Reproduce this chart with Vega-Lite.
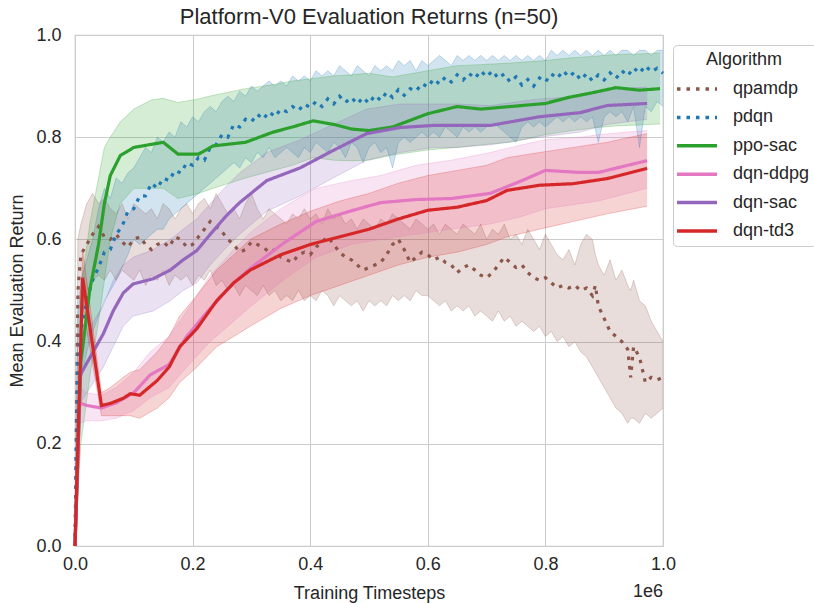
{
"$schema": "https://vega.github.io/schema/vega-lite/v6.json",
"width": 588, "height": 511,
"autosize": {"type": "none"},
"padding": {"left": 75, "top": 35, "right": 151, "bottom": 57},
"title": {"text": "Platform-V0 Evaluation Returns (n=50)", "fontSize": 22, "fontWeight": "normal", "font": "Liberation Sans", "color": "#262626", "offset": -3},
"config": {
  "font": "Liberation Sans",
  "view": {"stroke": "#cccccc", "strokeWidth": 1.25},
  "axis": {"grid": true, "gridColor": "#cccccc", "gridWidth": 1, "domain": false, "ticks": false, "labelFlush": false, "labelFontSize": 18, "labelColor": "#262626", "titleFontSize": 18, "titleFontWeight": "normal", "titleColor": "#262626"}
},
"datasets": {
"runs": [
{"a":"qpamdp","t":0,"m":0,"lo":0,"hi":0},
{"a":"qpamdp","t":0.005,"m":0.50,"lo":0.40,"hi":0.60},
{"a":"qpamdp","t":0.01,"m":0.57,"lo":0.44,"hi":0.63},
{"a":"qpamdp","t":0.02,"m":0.59,"lo":0.50,"hi":0.67},
{"a":"qpamdp","t":0.03,"m":0.61,"lo":0.52,"hi":0.69},
{"a":"qpamdp","t":0.04,"m":0.625,"lo":0.53,"hi":0.67},
{"a":"qpamdp","t":0.05,"m":0.605,"lo":0.52,"hi":0.68},
{"a":"qpamdp","t":0.06,"m":0.60,"lo":0.54,"hi":0.66},
{"a":"qpamdp","t":0.07,"m":0.61,"lo":0.52,"hi":0.65},
{"a":"qpamdp","t":0.08,"m":0.595,"lo":0.54,"hi":0.67},
{"a":"qpamdp","t":0.09,"m":0.585,"lo":0.53,"hi":0.64},
{"a":"qpamdp","t":0.10,"m":0.60,"lo":0.52,"hi":0.67},
{"a":"qpamdp","t":0.11,"m":0.605,"lo":0.54,"hi":0.66},
{"a":"qpamdp","t":0.12,"m":0.59,"lo":0.51,"hi":0.65},
{"a":"qpamdp","t":0.13,"m":0.58,"lo":0.53,"hi":0.66},
{"a":"qpamdp","t":0.14,"m":0.59,"lo":0.52,"hi":0.64},
{"a":"qpamdp","t":0.15,"m":0.595,"lo":0.54,"hi":0.67},
{"a":"qpamdp","t":0.16,"m":0.585,"lo":0.51,"hi":0.66},
{"a":"qpamdp","t":0.17,"m":0.605,"lo":0.53,"hi":0.64},
{"a":"qpamdp","t":0.18,"m":0.60,"lo":0.52,"hi":0.66},
{"a":"qpamdp","t":0.19,"m":0.585,"lo":0.53,"hi":0.67},
{"a":"qpamdp","t":0.20,"m":0.59,"lo":0.51,"hi":0.65},
{"a":"qpamdp","t":0.21,"m":0.605,"lo":0.53,"hi":0.67},
{"a":"qpamdp","t":0.22,"m":0.62,"lo":0.52,"hi":0.68},
{"a":"qpamdp","t":0.23,"m":0.635,"lo":0.54,"hi":0.66},
{"a":"qpamdp","t":0.24,"m":0.625,"lo":0.51,"hi":0.69},
{"a":"qpamdp","t":0.25,"m":0.615,"lo":0.52,"hi":0.67},
{"a":"qpamdp","t":0.26,"m":0.60,"lo":0.50,"hi":0.65},
{"a":"qpamdp","t":0.27,"m":0.59,"lo":0.51,"hi":0.66},
{"a":"qpamdp","t":0.28,"m":0.575,"lo":0.49,"hi":0.64},
{"a":"qpamdp","t":0.29,"m":0.58,"lo":0.51,"hi":0.67},
{"a":"qpamdp","t":0.30,"m":0.595,"lo":0.50,"hi":0.69},
{"a":"qpamdp","t":0.31,"m":0.59,"lo":0.49,"hi":0.66},
{"a":"qpamdp","t":0.32,"m":0.585,"lo":0.51,"hi":0.64},
{"a":"qpamdp","t":0.33,"m":0.575,"lo":0.49,"hi":0.66},
{"a":"qpamdp","t":0.34,"m":0.58,"lo":0.50,"hi":0.65},
{"a":"qpamdp","t":0.35,"m":0.565,"lo":0.48,"hi":0.64},
{"a":"qpamdp","t":0.36,"m":0.56,"lo":0.49,"hi":0.63},
{"a":"qpamdp","t":0.37,"m":0.555,"lo":0.48,"hi":0.65},
{"a":"qpamdp","t":0.38,"m":0.57,"lo":0.50,"hi":0.64},
{"a":"qpamdp","t":0.39,"m":0.575,"lo":0.48,"hi":0.66},
{"a":"qpamdp","t":0.40,"m":0.57,"lo":0.49,"hi":0.64},
{"a":"qpamdp","t":0.41,"m":0.585,"lo":0.48,"hi":0.65},
{"a":"qpamdp","t":0.42,"m":0.595,"lo":0.50,"hi":0.63},
{"a":"qpamdp","t":0.43,"m":0.605,"lo":0.49,"hi":0.66},
{"a":"qpamdp","t":0.44,"m":0.59,"lo":0.47,"hi":0.64},
{"a":"qpamdp","t":0.45,"m":0.575,"lo":0.49,"hi":0.65},
{"a":"qpamdp","t":0.46,"m":0.565,"lo":0.48,"hi":0.63},
{"a":"qpamdp","t":0.47,"m":0.56,"lo":0.47,"hi":0.64},
{"a":"qpamdp","t":0.48,"m":0.55,"lo":0.48,"hi":0.62},
{"a":"qpamdp","t":0.49,"m":0.54,"lo":0.46,"hi":0.64},
{"a":"qpamdp","t":0.50,"m":0.545,"lo":0.48,"hi":0.63},
{"a":"qpamdp","t":0.51,"m":0.55,"lo":0.47,"hi":0.62},
{"a":"qpamdp","t":0.52,"m":0.555,"lo":0.48,"hi":0.64},
{"a":"qpamdp","t":0.53,"m":0.57,"lo":0.47,"hi":0.63},
{"a":"qpamdp","t":0.54,"m":0.59,"lo":0.49,"hi":0.65},
{"a":"qpamdp","t":0.55,"m":0.60,"lo":0.48,"hi":0.64},
{"a":"qpamdp","t":0.56,"m":0.58,"lo":0.49,"hi":0.63},
{"a":"qpamdp","t":0.57,"m":0.555,"lo":0.48,"hi":0.62},
{"a":"qpamdp","t":0.58,"m":0.565,"lo":0.50,"hi":0.64},
{"a":"qpamdp","t":0.59,"m":0.575,"lo":0.49,"hi":0.63},
{"a":"qpamdp","t":0.60,"m":0.57,"lo":0.49,"hi":0.62},
{"a":"qpamdp","t":0.61,"m":0.56,"lo":0.48,"hi":0.63},
{"a":"qpamdp","t":0.62,"m":0.565,"lo":0.47,"hi":0.61},
{"a":"qpamdp","t":0.63,"m":0.555,"lo":0.48,"hi":0.63},
{"a":"qpamdp","t":0.64,"m":0.55,"lo":0.46,"hi":0.62},
{"a":"qpamdp","t":0.65,"m":0.535,"lo":0.47,"hi":0.61},
{"a":"qpamdp","t":0.66,"m":0.545,"lo":0.46,"hi":0.63},
{"a":"qpamdp","t":0.67,"m":0.55,"lo":0.47,"hi":0.62},
{"a":"qpamdp","t":0.68,"m":0.54,"lo":0.45,"hi":0.61},
{"a":"qpamdp","t":0.69,"m":0.53,"lo":0.46,"hi":0.63},
{"a":"qpamdp","t":0.70,"m":0.525,"lo":0.45,"hi":0.60},
{"a":"qpamdp","t":0.71,"m":0.535,"lo":0.44,"hi":0.62},
{"a":"qpamdp","t":0.72,"m":0.55,"lo":0.46,"hi":0.61},
{"a":"qpamdp","t":0.73,"m":0.565,"lo":0.44,"hi":0.63},
{"a":"qpamdp","t":0.74,"m":0.555,"lo":0.45,"hi":0.60},
{"a":"qpamdp","t":0.75,"m":0.545,"lo":0.43,"hi":0.61},
{"a":"qpamdp","t":0.76,"m":0.55,"lo":0.44,"hi":0.59},
{"a":"qpamdp","t":0.77,"m":0.535,"lo":0.43,"hi":0.62},
{"a":"qpamdp","t":0.78,"m":0.525,"lo":0.42,"hi":0.60},
{"a":"qpamdp","t":0.79,"m":0.52,"lo":0.43,"hi":0.58},
{"a":"qpamdp","t":0.80,"m":0.525,"lo":0.41,"hi":0.61},
{"a":"qpamdp","t":0.81,"m":0.515,"lo":0.42,"hi":0.59},
{"a":"qpamdp","t":0.82,"m":0.505,"lo":0.40,"hi":0.57},
{"a":"qpamdp","t":0.83,"m":0.51,"lo":0.41,"hi":0.56},
{"a":"qpamdp","t":0.84,"m":0.505,"lo":0.39,"hi":0.58},
{"a":"qpamdp","t":0.85,"m":0.51,"lo":0.40,"hi":0.55},
{"a":"qpamdp","t":0.86,"m":0.50,"lo":0.38,"hi":0.59},
{"a":"qpamdp","t":0.87,"m":0.505,"lo":0.37,"hi":0.61},
{"a":"qpamdp","t":0.88,"m":0.49,"lo":0.35,"hi":0.60},
{"a":"qpamdp","t":0.885,"m":0.51,"lo":0.34,"hi":0.57},
{"a":"qpamdp","t":0.89,"m":0.47,"lo":0.33,"hi":0.55},
{"a":"qpamdp","t":0.90,"m":0.445,"lo":0.31,"hi":0.53},
{"a":"qpamdp","t":0.91,"m":0.42,"lo":0.29,"hi":0.56},
{"a":"qpamdp","t":0.92,"m":0.41,"lo":0.27,"hi":0.52},
{"a":"qpamdp","t":0.93,"m":0.40,"lo":0.26,"hi":0.54},
{"a":"qpamdp","t":0.94,"m":0.385,"lo":0.24,"hi":0.51},
{"a":"qpamdp","t":0.945,"m":0.33,"lo":0.25,"hi":0.50},
{"a":"qpamdp","t":0.95,"m":0.39,"lo":0.25,"hi":0.52},
{"a":"qpamdp","t":0.96,"m":0.37,"lo":0.24,"hi":0.48},
{"a":"qpamdp","t":0.97,"m":0.32,"lo":0.26,"hi":0.47},
{"a":"qpamdp","t":0.98,"m":0.33,"lo":0.25,"hi":0.44},
{"a":"qpamdp","t":0.99,"m":0.325,"lo":0.26,"hi":0.42},
{"a":"qpamdp","t":1.00,"m":0.33,"lo":0.27,"hi":0.40},
{"a":"pdqn","t":0,"m":0,"lo":0,"hi":0},
{"a":"pdqn","t":0.005,"m":0.36,"lo":0.25,"hi":0.45},
{"a":"pdqn","t":0.01,"m":0.42,"lo":0.32,"hi":0.52},
{"a":"pdqn","t":0.02,"m":0.48,"lo":0.38,"hi":0.56},
{"a":"pdqn","t":0.03,"m":0.52,"lo":0.42,"hi":0.60},
{"a":"pdqn","t":0.04,"m":0.545,"lo":0.45,"hi":0.66},
{"a":"pdqn","t":0.05,"m":0.575,"lo":0.48,"hi":0.70},
{"a":"pdqn","t":0.06,"m":0.58,"lo":0.50,"hi":0.68},
{"a":"pdqn","t":0.07,"m":0.61,"lo":0.52,"hi":0.72},
{"a":"pdqn","t":0.08,"m":0.625,"lo":0.545,"hi":0.71},
{"a":"pdqn","t":0.09,"m":0.655,"lo":0.57,"hi":0.73},
{"a":"pdqn","t":0.10,"m":0.66,"lo":0.60,"hi":0.74},
{"a":"pdqn","t":0.11,"m":0.685,"lo":0.59,"hi":0.76},
{"a":"pdqn","t":0.12,"m":0.685,"lo":0.60,"hi":0.78},
{"a":"pdqn","t":0.13,"m":0.71,"lo":0.61,"hi":0.77},
{"a":"pdqn","t":0.14,"m":0.70,"lo":0.62,"hi":0.80},
{"a":"pdqn","t":0.15,"m":0.72,"lo":0.62,"hi":0.79},
{"a":"pdqn","t":0.16,"m":0.715,"lo":0.64,"hi":0.81},
{"a":"pdqn","t":0.17,"m":0.735,"lo":0.65,"hi":0.80},
{"a":"pdqn","t":0.18,"m":0.73,"lo":0.66,"hi":0.83},
{"a":"pdqn","t":0.19,"m":0.75,"lo":0.67,"hi":0.82},
{"a":"pdqn","t":0.20,"m":0.745,"lo":0.68,"hi":0.84},
{"a":"pdqn","t":0.21,"m":0.76,"lo":0.69,"hi":0.83},
{"a":"pdqn","t":0.22,"m":0.755,"lo":0.70,"hi":0.85},
{"a":"pdqn","t":0.23,"m":0.78,"lo":0.71,"hi":0.86},
{"a":"pdqn","t":0.24,"m":0.785,"lo":0.72,"hi":0.85},
{"a":"pdqn","t":0.25,"m":0.805,"lo":0.73,"hi":0.87},
{"a":"pdqn","t":0.26,"m":0.80,"lo":0.74,"hi":0.88},
{"a":"pdqn","t":0.27,"m":0.825,"lo":0.75,"hi":0.87},
{"a":"pdqn","t":0.28,"m":0.82,"lo":0.74,"hi":0.89},
{"a":"pdqn","t":0.29,"m":0.835,"lo":0.76,"hi":0.88},
{"a":"pdqn","t":0.30,"m":0.83,"lo":0.75,"hi":0.90},
{"a":"pdqn","t":0.31,"m":0.845,"lo":0.77,"hi":0.89},
{"a":"pdqn","t":0.32,"m":0.835,"lo":0.76,"hi":0.90},
{"a":"pdqn","t":0.33,"m":0.85,"lo":0.78,"hi":0.91},
{"a":"pdqn","t":0.34,"m":0.84,"lo":0.76,"hi":0.90},
{"a":"pdqn","t":0.35,"m":0.855,"lo":0.77,"hi":0.91},
{"a":"pdqn","t":0.36,"m":0.85,"lo":0.78,"hi":0.90},
{"a":"pdqn","t":0.37,"m":0.86,"lo":0.77,"hi":0.92},
{"a":"pdqn","t":0.38,"m":0.852,"lo":0.76,"hi":0.91},
{"a":"pdqn","t":0.39,"m":0.865,"lo":0.78,"hi":0.92},
{"a":"pdqn","t":0.40,"m":0.858,"lo":0.77,"hi":0.91},
{"a":"pdqn","t":0.41,"m":0.87,"lo":0.79,"hi":0.93},
{"a":"pdqn","t":0.42,"m":0.86,"lo":0.78,"hi":0.92},
{"a":"pdqn","t":0.43,"m":0.875,"lo":0.77,"hi":0.93},
{"a":"pdqn","t":0.44,"m":0.865,"lo":0.79,"hi":0.92},
{"a":"pdqn","t":0.45,"m":0.88,"lo":0.78,"hi":0.94},
{"a":"pdqn","t":0.46,"m":0.868,"lo":0.76,"hi":0.93},
{"a":"pdqn","t":0.47,"m":0.878,"lo":0.79,"hi":0.92},
{"a":"pdqn","t":0.48,"m":0.865,"lo":0.78,"hi":0.94},
{"a":"pdqn","t":0.49,"m":0.878,"lo":0.75,"hi":0.93},
{"a":"pdqn","t":0.50,"m":0.866,"lo":0.78,"hi":0.92},
{"a":"pdqn","t":0.51,"m":0.882,"lo":0.79,"hi":0.94},
{"a":"pdqn","t":0.52,"m":0.872,"lo":0.77,"hi":0.93},
{"a":"pdqn","t":0.53,"m":0.888,"lo":0.78,"hi":0.94},
{"a":"pdqn","t":0.54,"m":0.878,"lo":0.74,"hi":0.93},
{"a":"pdqn","t":0.55,"m":0.893,"lo":0.79,"hi":0.95},
{"a":"pdqn","t":0.56,"m":0.882,"lo":0.80,"hi":0.94},
{"a":"pdqn","t":0.57,"m":0.895,"lo":0.79,"hi":0.95},
{"a":"pdqn","t":0.58,"m":0.89,"lo":0.80,"hi":0.93},
{"a":"pdqn","t":0.59,"m":0.905,"lo":0.81,"hi":0.95},
{"a":"pdqn","t":0.60,"m":0.898,"lo":0.80,"hi":0.94},
{"a":"pdqn","t":0.61,"m":0.914,"lo":0.81,"hi":0.95},
{"a":"pdqn","t":0.62,"m":0.904,"lo":0.80,"hi":0.96},
{"a":"pdqn","t":0.63,"m":0.918,"lo":0.82,"hi":0.95},
{"a":"pdqn","t":0.64,"m":0.908,"lo":0.81,"hi":0.94},
{"a":"pdqn","t":0.65,"m":0.922,"lo":0.80,"hi":0.96},
{"a":"pdqn","t":0.66,"m":0.912,"lo":0.82,"hi":0.95},
{"a":"pdqn","t":0.67,"m":0.925,"lo":0.81,"hi":0.96},
{"a":"pdqn","t":0.68,"m":0.915,"lo":0.82,"hi":0.95},
{"a":"pdqn","t":0.69,"m":0.93,"lo":0.81,"hi":0.96},
{"a":"pdqn","t":0.70,"m":0.918,"lo":0.82,"hi":0.95},
{"a":"pdqn","t":0.71,"m":0.93,"lo":0.83,"hi":0.96},
{"a":"pdqn","t":0.72,"m":0.915,"lo":0.82,"hi":0.95},
{"a":"pdqn","t":0.73,"m":0.924,"lo":0.81,"hi":0.96},
{"a":"pdqn","t":0.74,"m":0.908,"lo":0.80,"hi":0.95},
{"a":"pdqn","t":0.75,"m":0.918,"lo":0.79,"hi":0.96},
{"a":"pdqn","t":0.76,"m":0.902,"lo":0.82,"hi":0.95},
{"a":"pdqn","t":0.77,"m":0.913,"lo":0.83,"hi":0.96},
{"a":"pdqn","t":0.78,"m":0.90,"lo":0.82,"hi":0.95},
{"a":"pdqn","t":0.79,"m":0.916,"lo":0.83,"hi":0.96},
{"a":"pdqn","t":0.80,"m":0.908,"lo":0.82,"hi":0.95},
{"a":"pdqn","t":0.81,"m":0.924,"lo":0.83,"hi":0.97},
{"a":"pdqn","t":0.82,"m":0.915,"lo":0.84,"hi":0.96},
{"a":"pdqn","t":0.83,"m":0.93,"lo":0.83,"hi":0.97},
{"a":"pdqn","t":0.84,"m":0.918,"lo":0.84,"hi":0.96},
{"a":"pdqn","t":0.85,"m":0.928,"lo":0.83,"hi":0.97},
{"a":"pdqn","t":0.86,"m":0.912,"lo":0.84,"hi":0.96},
{"a":"pdqn","t":0.87,"m":0.924,"lo":0.83,"hi":0.97},
{"a":"pdqn","t":0.88,"m":0.91,"lo":0.84,"hi":0.96},
{"a":"pdqn","t":0.89,"m":0.922,"lo":0.79,"hi":0.97},
{"a":"pdqn","t":0.90,"m":0.912,"lo":0.84,"hi":0.96},
{"a":"pdqn","t":0.91,"m":0.926,"lo":0.85,"hi":0.97},
{"a":"pdqn","t":0.92,"m":0.915,"lo":0.84,"hi":0.96},
{"a":"pdqn","t":0.93,"m":0.93,"lo":0.85,"hi":0.97},
{"a":"pdqn","t":0.94,"m":0.92,"lo":0.83,"hi":0.97},
{"a":"pdqn","t":0.95,"m":0.936,"lo":0.86,"hi":0.96},
{"a":"pdqn","t":0.96,"m":0.925,"lo":0.78,"hi":0.97},
{"a":"pdqn","t":0.97,"m":0.94,"lo":0.86,"hi":0.97},
{"a":"pdqn","t":0.98,"m":0.928,"lo":0.85,"hi":0.96},
{"a":"pdqn","t":0.99,"m":0.935,"lo":0.87,"hi":0.97},
{"a":"pdqn","t":1.00,"m":0.925,"lo":0.86,"hi":0.97},
{"a":"ppo-sac","t":0,"m":0,"lo":0,"hi":0},
{"a":"ppo-sac","t":0.01,"m":0.36,"lo":0.20,"hi":0.50},
{"a":"ppo-sac","t":0.025,"m":0.50,"lo":0.33,"hi":0.63},
{"a":"ppo-sac","t":0.04,"m":0.59,"lo":0.44,"hi":0.72},
{"a":"ppo-sac","t":0.05,"m":0.67,"lo":0.52,"hi":0.78},
{"a":"ppo-sac","t":0.06,"m":0.725,"lo":0.60,"hi":0.80},
{"a":"ppo-sac","t":0.077,"m":0.764,"lo":0.67,"hi":0.83},
{"a":"ppo-sac","t":0.10,"m":0.78,"lo":0.70,"hi":0.855},
{"a":"ppo-sac","t":0.13,"m":0.786,"lo":0.70,"hi":0.873},
{"a":"ppo-sac","t":0.15,"m":0.79,"lo":0.70,"hi":0.876},
{"a":"ppo-sac","t":0.175,"m":0.767,"lo":0.68,"hi":0.868},
{"a":"ppo-sac","t":0.21,"m":0.767,"lo":0.69,"hi":0.875},
{"a":"ppo-sac","t":0.235,"m":0.783,"lo":0.70,"hi":0.882},
{"a":"ppo-sac","t":0.29,"m":0.79,"lo":0.72,"hi":0.895},
{"a":"ppo-sac","t":0.337,"m":0.81,"lo":0.735,"hi":0.903},
{"a":"ppo-sac","t":0.37,"m":0.82,"lo":0.745,"hi":0.91},
{"a":"ppo-sac","t":0.405,"m":0.832,"lo":0.76,"hi":0.915},
{"a":"ppo-sac","t":0.44,"m":0.825,"lo":0.755,"hi":0.92},
{"a":"ppo-sac","t":0.47,"m":0.816,"lo":0.754,"hi":0.922},
{"a":"ppo-sac","t":0.50,"m":0.813,"lo":0.755,"hi":0.925},
{"a":"ppo-sac","t":0.54,"m":0.82,"lo":0.765,"hi":0.918},
{"a":"ppo-sac","t":0.60,"m":0.846,"lo":0.775,"hi":0.93},
{"a":"ppo-sac","t":0.65,"m":0.86,"lo":0.78,"hi":0.94},
{"a":"ppo-sac","t":0.69,"m":0.855,"lo":0.785,"hi":0.942},
{"a":"ppo-sac","t":0.74,"m":0.86,"lo":0.79,"hi":0.945},
{"a":"ppo-sac","t":0.80,"m":0.866,"lo":0.805,"hi":0.95},
{"a":"ppo-sac","t":0.84,"m":0.878,"lo":0.812,"hi":0.955},
{"a":"ppo-sac","t":0.88,"m":0.887,"lo":0.818,"hi":0.958},
{"a":"ppo-sac","t":0.92,"m":0.897,"lo":0.822,"hi":0.962},
{"a":"ppo-sac","t":0.96,"m":0.892,"lo":0.824,"hi":0.963},
{"a":"ppo-sac","t":0.995,"m":0.895,"lo":0.826,"hi":0.965},
{"a":"dqn-ddpg","t":0,"m":0,"lo":0,"hi":0},
{"a":"dqn-ddpg","t":0.008,"m":0.28,"lo":0.24,"hi":0.31},
{"a":"dqn-ddpg","t":0.02,"m":0.275,"lo":0.245,"hi":0.30},
{"a":"dqn-ddpg","t":0.045,"m":0.27,"lo":0.245,"hi":0.295},
{"a":"dqn-ddpg","t":0.07,"m":0.28,"lo":0.25,"hi":0.31},
{"a":"dqn-ddpg","t":0.10,"m":0.30,"lo":0.265,"hi":0.34},
{"a":"dqn-ddpg","t":0.128,"m":0.335,"lo":0.29,"hi":0.38},
{"a":"dqn-ddpg","t":0.16,"m":0.355,"lo":0.31,"hi":0.41},
{"a":"dqn-ddpg","t":0.19,"m":0.41,"lo":0.35,"hi":0.46},
{"a":"dqn-ddpg","t":0.23,"m":0.465,"lo":0.40,"hi":0.53},
{"a":"dqn-ddpg","t":0.27,"m":0.515,"lo":0.44,"hi":0.58},
{"a":"dqn-ddpg","t":0.30,"m":0.545,"lo":0.47,"hi":0.615},
{"a":"dqn-ddpg","t":0.354,"m":0.592,"lo":0.52,"hi":0.663},
{"a":"dqn-ddpg","t":0.41,"m":0.635,"lo":0.565,"hi":0.70},
{"a":"dqn-ddpg","t":0.47,"m":0.656,"lo":0.59,"hi":0.715},
{"a":"dqn-ddpg","t":0.52,"m":0.672,"lo":0.60,"hi":0.725},
{"a":"dqn-ddpg","t":0.58,"m":0.678,"lo":0.61,"hi":0.745},
{"a":"dqn-ddpg","t":0.64,"m":0.68,"lo":0.62,"hi":0.755},
{"a":"dqn-ddpg","t":0.706,"m":0.69,"lo":0.63,"hi":0.77},
{"a":"dqn-ddpg","t":0.76,"m":0.715,"lo":0.645,"hi":0.785},
{"a":"dqn-ddpg","t":0.80,"m":0.735,"lo":0.66,"hi":0.795},
{"a":"dqn-ddpg","t":0.86,"m":0.731,"lo":0.67,"hi":0.80},
{"a":"dqn-ddpg","t":0.89,"m":0.731,"lo":0.675,"hi":0.805},
{"a":"dqn-ddpg","t":0.94,"m":0.745,"lo":0.69,"hi":0.81},
{"a":"dqn-ddpg","t":0.973,"m":0.754,"lo":0.70,"hi":0.813},
{"a":"dqn-sac","t":0,"m":0,"lo":0,"hi":0},
{"a":"dqn-sac","t":0.009,"m":0.335,"lo":0.28,"hi":0.39},
{"a":"dqn-sac","t":0.026,"m":0.37,"lo":0.31,"hi":0.43},
{"a":"dqn-sac","t":0.048,"m":0.415,"lo":0.35,"hi":0.47},
{"a":"dqn-sac","t":0.065,"m":0.46,"lo":0.39,"hi":0.52},
{"a":"dqn-sac","t":0.082,"m":0.495,"lo":0.43,"hi":0.55},
{"a":"dqn-sac","t":0.099,"m":0.513,"lo":0.45,"hi":0.565},
{"a":"dqn-sac","t":0.133,"m":0.523,"lo":0.46,"hi":0.58},
{"a":"dqn-sac","t":0.162,"m":0.54,"lo":0.48,"hi":0.60},
{"a":"dqn-sac","t":0.184,"m":0.56,"lo":0.50,"hi":0.62},
{"a":"dqn-sac","t":0.207,"m":0.578,"lo":0.515,"hi":0.64},
{"a":"dqn-sac","t":0.23,"m":0.61,"lo":0.55,"hi":0.67},
{"a":"dqn-sac","t":0.258,"m":0.647,"lo":0.585,"hi":0.705},
{"a":"dqn-sac","t":0.28,"m":0.672,"lo":0.61,"hi":0.73},
{"a":"dqn-sac","t":0.326,"m":0.715,"lo":0.655,"hi":0.77},
{"a":"dqn-sac","t":0.383,"m":0.74,"lo":0.685,"hi":0.795},
{"a":"dqn-sac","t":0.439,"m":0.774,"lo":0.72,"hi":0.825},
{"a":"dqn-sac","t":0.496,"m":0.807,"lo":0.755,"hi":0.855},
{"a":"dqn-sac","t":0.553,"m":0.819,"lo":0.77,"hi":0.865},
{"a":"dqn-sac","t":0.609,"m":0.823,"lo":0.78,"hi":0.865},
{"a":"dqn-sac","t":0.65,"m":0.823,"lo":0.78,"hi":0.865},
{"a":"dqn-sac","t":0.706,"m":0.823,"lo":0.785,"hi":0.862},
{"a":"dqn-sac","t":0.79,"m":0.84,"lo":0.80,"hi":0.875},
{"a":"dqn-sac","t":0.859,"m":0.848,"lo":0.81,"hi":0.88},
{"a":"dqn-sac","t":0.905,"m":0.862,"lo":0.825,"hi":0.895},
{"a":"dqn-sac","t":0.973,"m":0.866,"lo":0.835,"hi":0.898},
{"a":"dqn-td3","t":0,"m":0,"lo":0,"hi":0},
{"a":"dqn-td3","t":0.013,"m":0.525,"lo":0.47,"hi":0.58},
{"a":"dqn-td3","t":0.045,"m":0.275,"lo":0.255,"hi":0.30},
{"a":"dqn-td3","t":0.06,"m":0.279,"lo":0.255,"hi":0.31},
{"a":"dqn-td3","t":0.082,"m":0.289,"lo":0.255,"hi":0.33},
{"a":"dqn-td3","t":0.094,"m":0.298,"lo":0.255,"hi":0.34},
{"a":"dqn-td3","t":0.11,"m":0.295,"lo":0.25,"hi":0.345},
{"a":"dqn-td3","t":0.14,"m":0.324,"lo":0.27,"hi":0.38},
{"a":"dqn-td3","t":0.16,"m":0.35,"lo":0.29,"hi":0.41},
{"a":"dqn-td3","t":0.178,"m":0.39,"lo":0.32,"hi":0.45},
{"a":"dqn-td3","t":0.207,"m":0.425,"lo":0.35,"hi":0.49},
{"a":"dqn-td3","t":0.241,"m":0.48,"lo":0.39,"hi":0.54},
{"a":"dqn-td3","t":0.27,"m":0.515,"lo":0.41,"hi":0.57},
{"a":"dqn-td3","t":0.298,"m":0.54,"lo":0.43,"hi":0.60},
{"a":"dqn-td3","t":0.35,"m":0.57,"lo":0.465,"hi":0.63},
{"a":"dqn-td3","t":0.40,"m":0.59,"lo":0.49,"hi":0.655},
{"a":"dqn-td3","t":0.45,"m":0.605,"lo":0.51,"hi":0.675},
{"a":"dqn-td3","t":0.50,"m":0.62,"lo":0.53,"hi":0.69},
{"a":"dqn-td3","t":0.55,"m":0.64,"lo":0.55,"hi":0.71},
{"a":"dqn-td3","t":0.60,"m":0.657,"lo":0.565,"hi":0.725},
{"a":"dqn-td3","t":0.65,"m":0.663,"lo":0.575,"hi":0.735},
{"a":"dqn-td3","t":0.70,"m":0.676,"lo":0.59,"hi":0.745},
{"a":"dqn-td3","t":0.735,"m":0.696,"lo":0.605,"hi":0.76},
{"a":"dqn-td3","t":0.79,"m":0.706,"lo":0.62,"hi":0.77},
{"a":"dqn-td3","t":0.847,"m":0.709,"lo":0.635,"hi":0.78},
{"a":"dqn-td3","t":0.905,"m":0.719,"lo":0.65,"hi":0.79},
{"a":"dqn-td3","t":0.973,"m":0.739,"lo":0.665,"hi":0.807}
],
"note": [{"t": 1, "v": 0, "txt": "1e6"}]
},
"layer": [
  {
    "data": {"name": "runs"},
    "mark": {"type": "area", "fillOpacity": 0.2},
    "encoding": {
      "x": {"field": "t", "type": "quantitative", "scale": {"domain": [0, 1], "nice": false}, "axis": {"values": [0, 0.2, 0.4, 0.6, 0.8, 1.0], "format": ".1f", "labelPadding": 9, "titlePadding": 11, "title": "Training Timesteps"}},
      "y": {"field": "lo", "type": "quantitative", "scale": {"domain": [0, 1], "nice": false}, "axis": {"values": [0, 0.2, 0.4, 0.6, 0.8, 1.0], "format": ".1f", "labelPadding": 14, "titlePadding": 9, "title": "Mean Evaluation Return"}},
      "y2": {"field": "hi"},
      "color": {"field": "a", "type": "nominal"}
    }
  },
  {
    "data": {"name": "runs"},
    "mark": {"type": "line", "strokeWidth": 1, "strokeOpacity": 0.25},
    "encoding": {
      "x": {"field": "t", "type": "quantitative"},
      "y": {"field": "lo", "type": "quantitative"},
      "color": {"field": "a", "type": "nominal"}
    }
  },
  {
    "data": {"name": "runs"},
    "mark": {"type": "line", "strokeWidth": 1, "strokeOpacity": 0.25},
    "encoding": {
      "x": {"field": "t", "type": "quantitative"},
      "y": {"field": "hi", "type": "quantitative"},
      "color": {"field": "a", "type": "nominal"}
    }
  },
  {
    "data": {"name": "runs"},
    "mark": {"type": "line", "strokeWidth": 3.2, "strokeCap": "butt"},
    "encoding": {
      "x": {"field": "t", "type": "quantitative"},
      "y": {"field": "m", "type": "quantitative"},
      "color": {"field": "a", "type": "nominal", "title": "Algorithm",
        "scale": {"domain": ["qpamdp", "pdqn", "ppo-sac", "dqn-ddpg", "dqn-sac", "dqn-td3"], "range": ["#8c564b", "#1f77b4", "#2ca02c", "#e377c2", "#9467bd", "#d62728"]},
        "legend": {"orient": "none", "legendX": 598, "legendY": 10, "titleFontSize": 18, "titleFontWeight": "normal", "titleColor": "#262626", "titleAnchor": "middle", "titlePadding": 4, "labelFontSize": 18, "labelColor": "#262626", "symbolType": "M-1.43,0H1.43", "symbolSize": 784, "symbolStrokeWidth": 3.5, "symbolOpacity": 1, "symbolFillColor": "transparent", "symbolOffset": 2, "strokeColor": "#cccccc", "fillColor": "white", "padding": 6, "cornerRadius": 4, "rowPadding": 3.4, "labelOffset": 20,
          "encode": {"symbols": {"update": {"opacity": {"value": 1}, "strokeOpacity": {"value": 1}, "fillOpacity": {"value": 0}}}}}},
      "strokeDash": {"field": "a", "type": "nominal", "title": "Algorithm",
        "scale": {"domain": ["qpamdp", "pdqn", "ppo-sac", "dqn-ddpg", "dqn-sac", "dqn-td3"], "range": [[3.5, 6], [3.5, 6], [1, 0], [1, 0], [1, 0], [1, 0]]}}
    }
  },
  {
    "data": {"name": "note"},
    "mark": {"type": "text", "align": "right", "baseline": "middle", "dy": 46, "fontSize": 18, "color": "#262626"},
    "encoding": {
      "x": {"field": "t", "type": "quantitative"},
      "y": {"field": "v", "type": "quantitative"},
      "text": {"field": "txt"}
    }
  }
]
}
